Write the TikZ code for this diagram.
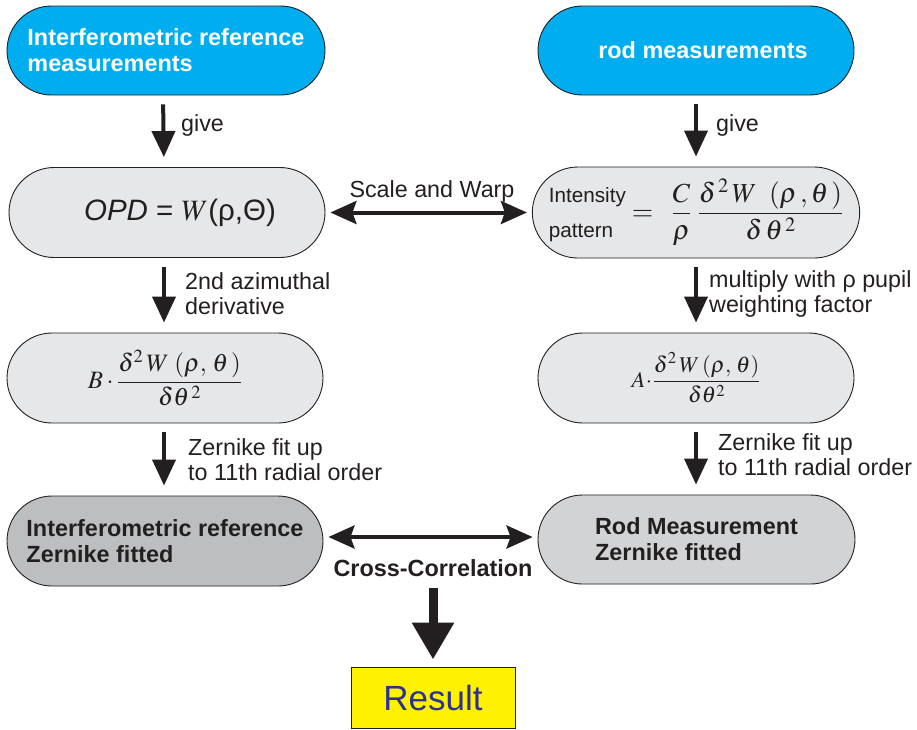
\documentclass[tikz,border=0pt]{standalone}
\usepackage{mathptmx}
\usepackage[no-math]{fontspec}
\setmainfont{Liberation Sans}
\usetikzlibrary{shapes.misc,arrows.meta}

\definecolor{cyanbox}{HTML}{00AEEF}
\definecolor{ink}{HTML}{231F20}
\definecolor{palegray}{HTML}{E6E7E8}
\definecolor{midgray}{HTML}{BCBEC0}
\definecolor{softgray}{HTML}{D1D3D4}
\definecolor{resyellow}{HTML}{FFF200}
\definecolor{resblue}{HTML}{2E3192}

\tikzset{
  pill/.style={rounded rectangle, draw=ink, line width=0.9pt,
    minimum width=316pt, minimum height=90pt, inner sep=0pt, align=left},
  srcbox/.style={pill, fill=cyanbox, text=white,
    font=\bfseries\fontsize{23.4}{26}\selectfont},
  eqbox/.style={pill, fill=palegray, text=ink},
  fitbox/.style={pill, text=ink, font=\bfseries\fontsize{23.4}{26}\selectfont},
  lbl/.style={font=\fontsize{23.3}{25}\selectfont, text=ink, inner sep=0pt,
    align=left, anchor=west},
  flow/.style={draw=ink, line width=4pt, -{Triangle[length=26pt,width=23pt]},
    shorten <=9pt, shorten >=10pt},
  twoway/.style={draw=ink, line width=4pt,
    {Stealth[length=26pt,width=23pt,inset=4pt]}-{Stealth[length=26pt,width=23pt,inset=4pt]},
    shorten <=5pt, shorten >=5pt},
  bigflow/.style={draw=ink, line width=9pt, -{Triangle[length=37pt,width=40pt]}},
}

\begin{document}
\begin{tikzpicture}[x=1pt,y=-1pt]
\useasboundingbox (0,0) rectangle (917,729);

% measurement sources
\node[srcbox, minimum width=318pt, minimum height=89pt] (in1) at (166,50.5)
  {Interferometric reference\\measurements};
\node[srcbox, minimum height=89pt] (rod) at (696,50.5)
  {\hspace*{14pt}rod measurements};

% wavefront and intensity
\node[eqbox] (opd) at (167,212.5)
  {\hspace*{26pt}{\fontsize{29.5}{32}\selectfont\itshape OPD\upshape{} = $W$(ρ,Θ)}};
\node[eqbox, minimum width=314pt, minimum height=91pt] (inten) at (696,212.5)
  {\raisebox{3pt}{\fontsize{20.7}{35}\selectfont\begin{tabular}[c]{@{}l@{}}Intensity\\pattern\end{tabular}}%
   {\fontsize{27.5}{30}\selectfont$\displaystyle
     \;=\;\;\frac{C}{\rho}\;\frac{\delta^{\,2}\,W\;\,\left(\rho\,,\theta\,\right)}{\delta\,\theta^{\,2}}$}};

% azimuthal derivatives
\node[eqbox] (bfit) at (165,378)
  {{\fontsize{25}{28}\selectfont$\displaystyle
     B\cdot\frac{\delta^{2}\,W\,\left(\rho,\,\theta\,\right)}{\delta\theta^{\,2}}$}};
\node[eqbox] (afit) at (696,378)
  {{\fontsize{22.5}{26}\selectfont$\displaystyle
     A\!\cdot\!\frac{\delta^{2}\,W\,(\rho,\,\theta)}{\delta\theta^{2}}$}};

% Zernike fits
\node[fitbox, fill=midgray] (izf) at (165,541)
  {Interferometric reference\\Zernike fitted};
\node[fitbox, fill=softgray, minimum width=317pt, minimum height=89pt] (rzf) at (696.5,539.5)
  {Rod Measurement\\Zernike fitted};

% outcome
\node[draw=ink, line width=0.9pt, fill=resyellow, minimum width=164pt,
  minimum height=61pt, inner sep=0pt, text=resblue,
  font=\fontsize{35}{40}\selectfont] (result) at (433,697.5) {Result};

% connector labels
\node[lbl] (g1) at (181,125) {give};
\node[lbl] (g2) at (716,125) {give};
\node[lbl] (d1) at (185,293.5) {2nd azimuthal\\derivative};
\node[lbl] (d2) at (709,293.5) {multiply with ρ pupil\\weighting factor};
\node[lbl] (z1) at (188,459.5) {Zernike fit up\\to 11th radial order};
\node[lbl] (z2) at (718,454.5) {Zernike fit up\\to 11th radial order};
\node[lbl, anchor=center] (sw) at (432,191) {Scale and Warp};
\node[lbl, anchor=center, font=\bfseries\fontsize{23.4}{26}\selectfont] (xc) at (433,568)
  {Cross-Correlation};

% connectors
\draw[flow] ([xshift=-3pt]in1.south) -- ([xshift=-3pt]opd.north);
\draw[flow] (rod.south) -- (inten.north);
\draw[flow] ([xshift=-3pt]opd.south) -- ([xshift=-1pt]bfit.north);
\draw[flow] (inten.south) -- (afit.north);
\draw[flow] ([xshift=-1pt]bfit.south) -- ([xshift=-1pt]izf.north);
\draw[flow] (afit.south) -- ([xshift=-0.5pt]rzf.north);
\draw[twoway] (opd.east) -- (inten.west);
\draw[twoway] ([yshift=4pt]izf.east) -- ([yshift=2.5pt]rzf.west);
\draw[bigflow, shorten <=11pt, shorten >=7pt] (xc.south) -- (result.north);
\end{tikzpicture}
\end{document}
